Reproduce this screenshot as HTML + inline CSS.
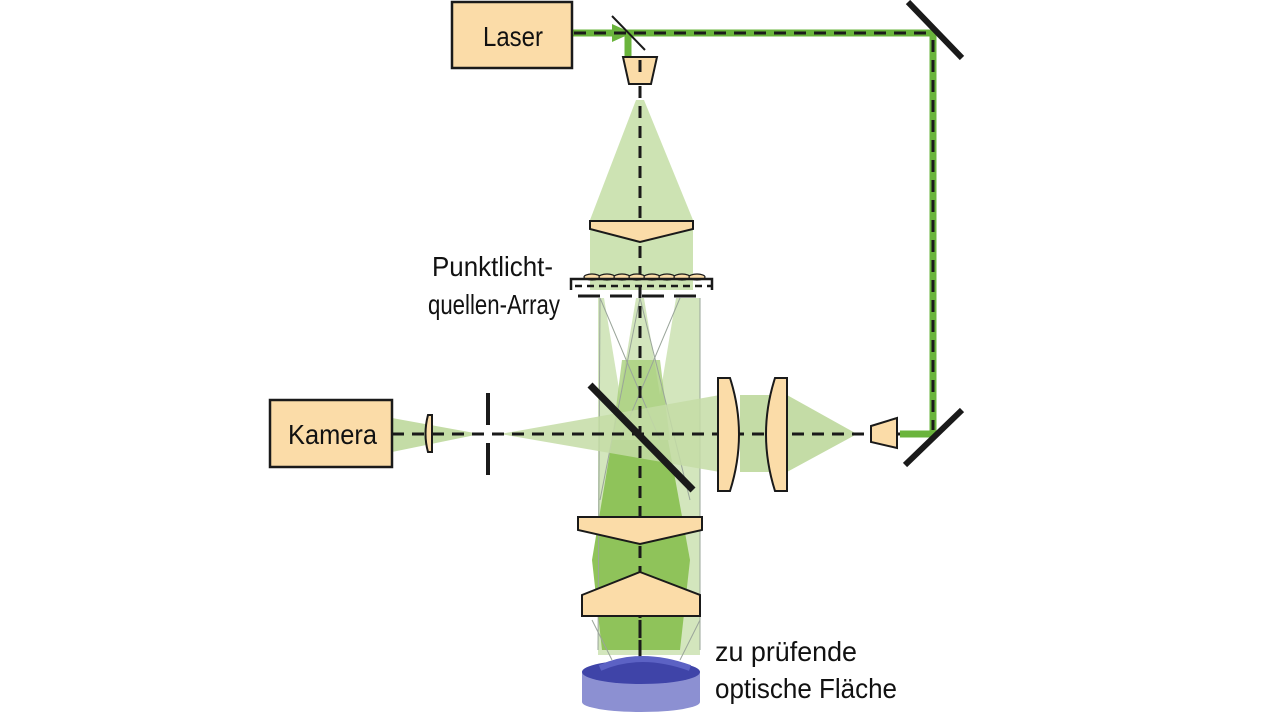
<!DOCTYPE html>
<html><head><meta charset="utf-8"><style>
html,body{margin:0;padding:0;background:#fff;width:1280px;height:719px;overflow:hidden}
svg{display:block}
text{font-family:"Liberation Sans",sans-serif;fill:#111}
</style></head><body>
<svg width="1280" height="719" viewBox="0 0 1280 719">
<!-- top cone -->
<polygon points="636,100 644,100 693,220 693,290 590,290 590,220" fill="#cde3b3"/>
<!-- vertical beams -->
<polygon points="598,298 700,298 700,655 598,655" fill="#d3e6bd"/>
<polygon points="604,298 636,298 620,395" fill="#fff"/>
<polygon points="644,298 676,298 660,395" fill="#fff"/>
<polygon points="612,440 668,440 690,560 680,650 602,650 592,560" fill="#8fc35a"/>
<polygon points="622,360 660,360 670,440 612,440" fill="#a9d07c" opacity="0.8"/>
<g stroke="#9aa59a" stroke-width="1" fill="none">
<line x1="600" y1="298" x2="660" y2="440"/><line x1="680" y1="298" x2="620" y2="440"/>
<line x1="640" y1="298" x2="600" y2="500"/><line x1="640" y1="298" x2="690" y2="500"/>
<line x1="600" y1="298" x2="598" y2="650"/><line x1="700" y1="298" x2="700" y2="650"/>
<line x1="592" y1="620" x2="612" y2="660"/><line x1="700" y1="620" x2="680" y2="660"/>
</g>
<!-- horizontal beams -->
<polygon points="392,418 480,434 392,452" fill="#c4dca6"/>
<polygon points="500,434 720,395 720,472" fill="#c4dca6" opacity="0.85"/>
<polygon points="740,395 787,395 857,434 787,472 740,472" fill="#c4dca6"/>
<!-- laser beam path green -->
<g stroke="#6ab43c" stroke-width="7" fill="none">
<line x1="572" y1="33" x2="935" y2="33"/>
<line x1="933" y1="33" x2="933" y2="434"/>
<line x1="900" y1="434" x2="933" y2="434"/>
<line x1="628" y1="33" x2="628" y2="56"/>
</g>
<polygon points="612,24 632,33 612,42" fill="#6ab43c"/>
<g stroke="#1a1a1a" stroke-width="3" stroke-dasharray="12,8" fill="none">
<line x1="574" y1="33" x2="930" y2="33"/>
<line x1="933" y1="40" x2="933" y2="430"/>
<line x1="640" y1="86" x2="640" y2="660"/>
<line x1="392" y1="434" x2="900" y2="434"/>
</g>
<!-- mirrors -->
<line x1="612" y1="16" x2="645" y2="50" stroke="#1a1a1a" stroke-width="2"/>
<line x1="908" y1="2" x2="962" y2="58" stroke="#1a1a1a" stroke-width="6"/>
<line x1="905" y1="465" x2="962" y2="410" stroke="#1a1a1a" stroke-width="6"/>
<line x1="590" y1="385" x2="693" y2="490" stroke="#1a1a1a" stroke-width="7"/>
<!-- boxes -->
<rect x="452" y="2" width="120" height="66" fill="#fbdca8" stroke="#1a1a1a" stroke-width="2.5"/>
<text x="483" y="46" font-size="28" textLength="60" lengthAdjust="spacingAndGlyphs">Laser</text>
<rect x="270" y="400" width="122" height="67" fill="#fbdca8" stroke="#1a1a1a" stroke-width="2.5"/>
<text x="288" y="444" font-size="28" textLength="89" lengthAdjust="spacingAndGlyphs">Kamera</text>
<!-- small lenses -->
<polygon points="623,57 657,57 651,84 629,84" fill="#fbdca8" stroke="#1a1a1a" stroke-width="2"/>
<line x1="640" y1="60" x2="640" y2="72" stroke="#1a1a1a" stroke-width="3"/>
<polygon points="871,426 897,418 897,448 871,442" fill="#fbdca8" stroke="#1a1a1a" stroke-width="2"/>
<path d="M428,415 Q423,434 428,452 L432,452 L432,415 Z" fill="#fbdca8" stroke="#1a1a1a" stroke-width="2"/>
<!-- aperture -->
<line x1="488" y1="393" x2="488" y2="425" stroke="#1a1a1a" stroke-width="4"/>
<line x1="488" y1="443" x2="488" y2="475" stroke="#1a1a1a" stroke-width="4"/>
<!-- top lens -->
<polygon points="590,221 693,221 693,229 640,242 590,229" fill="#fbdca8" stroke="#1a1a1a" stroke-width="2"/>
<!-- array -->
<g fill="#fbdca8" stroke="#1a1a1a" stroke-width="1.2">
<ellipse cx="592" cy="277" rx="8" ry="3"/><ellipse cx="607" cy="277" rx="8" ry="3"/><ellipse cx="622" cy="277" rx="8" ry="3"/><ellipse cx="637" cy="277" rx="8" ry="3"/><ellipse cx="652" cy="277" rx="8" ry="3"/><ellipse cx="667" cy="277" rx="8" ry="3"/><ellipse cx="682" cy="277" rx="8" ry="3"/><ellipse cx="697" cy="277" rx="8" ry="3"/>
</g>
<polyline points="571,290 571,279 712,279 712,290" fill="none" stroke="#1a1a1a" stroke-width="2.5"/>
<line x1="575" y1="286" x2="712" y2="286" stroke="#1a1a1a" stroke-width="2.5" stroke-dasharray="7,5"/>
<line x1="578" y1="296" x2="700" y2="296" stroke="#1a1a1a" stroke-width="3" stroke-dasharray="22,10"/>
<!-- right lenses -->
<path d="M718,378 L730,378 Q748,434 730,491 L718,491 Z" fill="#fbdca8" stroke="#1a1a1a" stroke-width="2"/>
<path d="M775,378 L787,378 L787,491 L775,491 Q757,434 775,378 Z" fill="#fbdca8" stroke="#1a1a1a" stroke-width="2"/>
<!-- bottom lenses -->
<polygon points="578,517 702,517 702,530 640,544 578,530" fill="#fbdca8" stroke="#1a1a1a" stroke-width="2"/>
<polygon points="640,572 700,595 700,616 582,616 582,595" fill="#fbdca8" stroke="#1a1a1a" stroke-width="2"/>
<!-- sample -->
<rect x="582" y="672" width="118" height="30" fill="#8c90d2"/>
<ellipse cx="641" cy="702" rx="59" ry="10" fill="#8c90d2"/>
<ellipse cx="641" cy="672" rx="59" ry="12" fill="#3f44a8"/>
<path d="M600,668 Q640,650 690,668" fill="none" stroke="#5c62c4" stroke-width="6"/>
<line x1="640" y1="620" x2="640" y2="660" stroke="#1a1a1a" stroke-width="3" stroke-dasharray="12,8"/>
<!-- labels -->
<text x="432" y="276" font-size="28" textLength="121" lengthAdjust="spacingAndGlyphs">Punktlicht-</text>
<text x="428" y="314" font-size="28" textLength="132" lengthAdjust="spacingAndGlyphs">quellen-Array</text>
<text x="715" y="661" font-size="28" textLength="142" lengthAdjust="spacingAndGlyphs">zu prüfende</text>
<text x="715" y="698" font-size="28" textLength="182" lengthAdjust="spacingAndGlyphs">optische Fläche</text>
</svg>
</body></html>
